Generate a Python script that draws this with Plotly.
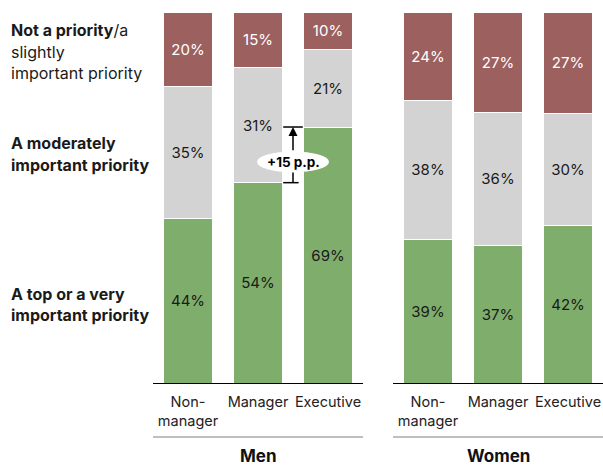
import plotly.graph_objects as go

categories = ["Non-<br>manager", "Manager", "Executive"]
men_top = [44, 54, 69]
men_moderate = [35, 31, 21]
men_not = [20, 15, 10]
women_top = [39, 37, 42]
women_moderate = [38, 36, 30]
women_not = [24, 27, 27]

GREEN = "#7fad6b"
GREY = "#d3d3d3"
RED = "#9c605f"
FONT = "Inter"
W, H = 603, 466
TOP, BOT = 12, 383

fig = go.Figure()

def add_group(vals_list, xa, ya):
    for vals, col, tcol in zip(vals_list, [GREEN, GREY, RED], ["#1a1a1a", "#1a1a1a", "white"]):
        fig.add_trace(go.Bar(
            x=categories, y=vals, xaxis=xa, yaxis=ya,
            marker=dict(color=col, line=dict(color="white", width=1)),
            text=[f"{v}%" for v in vals], textposition="inside",
            insidetextanchor="middle",
            textfont=dict(family=FONT, size=15, color=tcol),
            hoverinfo="skip", showlegend=False,
        ))

add_group([men_top, men_moderate, men_not], "x", "y")
add_group([women_top, women_moderate, women_not], "x2", "y2")

def py(pix):
    return (BOT - pix) / (BOT - TOP)

axis_common = dict(type="category", showline=True, linecolor="black", linewidth=1,
                   ticks="", showgrid=False, zeroline=False, ticklabelstandoff=6,
                   tickfont=dict(family=FONT, size=14.5, color="#222"), fixedrange=True)
yaxis_common = dict(range=[0, 100], visible=False, fixedrange=True)

fig.update_layout(
    width=W, height=H,
    margin=dict(l=0, r=0, t=TOP, b=H - BOT),
    paper_bgcolor="white", plot_bgcolor="white",
    barmode="stack", barnorm="percent", bargap=0.3,
    uniformtext=dict(minsize=15, mode="show"),
    xaxis=dict(domain=[153 / W, 363 / W], anchor="y", **axis_common),
    xaxis2=dict(domain=[393 / W, 1.0], anchor="y2", **axis_common),
    yaxis=dict(anchor="x", **yaxis_common),
    yaxis2=dict(anchor="x2", **yaxis_common),
    font=dict(family=FONT, color="#1a1a1a"),
)

# left labels, one per line
left_lines = [
    ("<b>Not a priority</b>/a", 30), ("slightly", 52), ("important priority", 73),
    ("<b>A moderately</b>", 143), ("<b>important priority</b>", 165),
    ("<b>A top or a very</b>", 294), ("<b>important priority</b>", 315),
]
for txt, pix in left_lines:
    fig.add_annotation(text=txt, xref="paper", yref="paper", x=9 / W, y=py(pix),
                       xanchor="left", yanchor="middle", showarrow=False,
                       font=dict(family=FONT, size=16, color="#1a1a1a"), align="left")

# panel titles and separator lines
for title, x0, x1 in [("Men", 153, 363), ("Women", 393, 603)]:
    fig.add_shape(type="line", xref="paper", yref="paper", x0=x0 / W, x1=x1 / W,
                  y0=py(437), y1=py(437), line=dict(color="#aaaaaa", width=1.5))
    fig.add_annotation(text=f"<b>{title}</b>", xref="paper", yref="paper",
                       x=(x0 + x1) / 2 / W, y=py(456), xanchor="center", yanchor="middle",
                       showarrow=False, font=dict(family=FONT, size=17, color="#111"))

# difference marker between Manager and Executive (men)
low = men_top[1]
high = men_top[2]
mid = 59.6
fig.add_shape(type="line", xref="x", yref="y", x0=1.36, x1=1.64, y0=high, y1=high,
              line=dict(color="black", width=1.5))
fig.add_shape(type="line", xref="x", yref="y", x0=1.36, x1=1.58, y0=low, y1=low,
              line=dict(color="black", width=1.5))
fig.add_shape(type="line", xref="x", yref="y", x0=1.5, x1=1.5, y0=low, y1=57.2,
              line=dict(color="black", width=1.5))
fig.add_annotation(x=1.5, y=high, ax=1.5, ay=62.3, xref="x", yref="y", axref="x", ayref="y",
                   text="", showarrow=True, arrowhead=2, arrowsize=1.2, arrowwidth=1.5,
                   arrowcolor="black", standoff=0)
fig.add_shape(type="circle", xref="x", yref="y", xsizemode="pixel", ysizemode="pixel",
              xanchor=1.5, yanchor=mid, x0=-36, x1=36, y0=-10.5, y1=10.5,
              fillcolor="white", line=dict(color="white", width=0), layer="above")
fig.add_annotation(x=1.5, y=mid, xref="x", yref="y", text="<b>+15 p.p.</b>",
                   showarrow=False, font=dict(family=FONT, size=13.5, color="black"))

fig.write_html("out.html", post_script="document.body.style.margin='0';",
               config={"displayModeBar": False})
